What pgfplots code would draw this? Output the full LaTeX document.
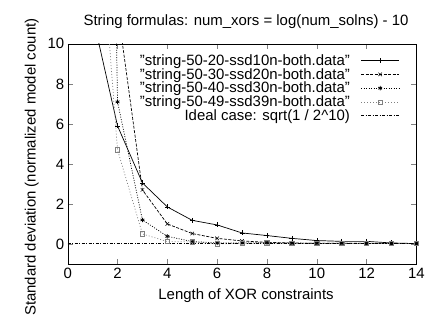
\documentclass[border=0pt]{standalone}
\usepackage{pgfplots}
\pgfplotsset{compat=1.18}
\usepackage{fontspec}
\setmainfont{Liberation Sans}
\begin{document}
\begin{tikzpicture}[x=1pt,y=1pt]
\path (0,0) rectangle (428,308);
\begin{axis}[
  at={(68pt,43pt)}, anchor=south west,
  scale only axis, width=350pt, height=221pt,
  xmin=0, xmax=14, ymin=-1, ymax=10,
  xtick={0,2,...,14}, ytick={0,2,...,10},
  tick align=inside, major tick length=5pt,
  /pgf/number format/assume math mode=true,
  font=\fontsize{15}{17}\selectfont,
  title={String formulas: num\_xors = log(num\_solns) - 10},
  title style={at={(0.5,1)}, anchor=south, yshift=6pt, xshift=4pt},
  xlabel={Length of XOR constraints},
  ylabel={Standard deviation (normalized model count)},
  xlabel style={yshift=-3pt, xshift=4pt},
  ylabel style={at={(ticklabel cs:0.44)}, yshift=2pt},
  xticklabel style={yshift=-1pt},
  legend style={draw=none, fill=none, at={(0.952,0.962)}, anchor=north east,
    inner sep=0pt, column sep=9pt, row sep=-2.5pt, font=\fontsize{15}{17}\selectfont},
  legend cell align=right,
  legend plot pos=right,
  legend image code/.code={\draw[mark repeat=2,mark phase=2] plot coordinates {(0pt,0pt) (19pt,0pt) (38pt,0pt)};},
  every axis plot/.append style={line width=0.7pt},
]
\addplot[black, solid, mark=+, mark size=2.5pt, mark options={solid, line width=0.5pt}] coordinates {
(1,11.4) (2,5.9) (3,3.05) (4,1.85) (5,1.18) (6,0.95) (7,0.55) (8,0.42) (9,0.28) (10,0.17) (11,0.13) (12,0.13) (13,0.05) (14,0.02)};
\addlegendentry{"string-50-20-ssd10n-both.data"}
\addplot[black, dash pattern=on 3pt off 1.5pt, mark=x, mark size=2.5pt, mark options={solid, line width=0.5pt}] coordinates {
(1,30) (2,11.8) (3,2.7) (4,1.0) (5,0.52) (6,0.28) (7,0.15) (8,0.08) (9,0.05) (10,0.03) (11,0.04) (12,0.03) (13,0.02) (14,0.02)};
\addlegendentry{"string-50-30-ssd20n-both.data"}
\addplot[black, dash pattern=on 1pt off 1.5pt, mark=asterisk, mark size=2.2pt, mark options={solid, line width=0.8pt}] coordinates {
(1,80) (2,7.1) (3,1.2) (4,0.38) (5,0.12) (6,0.05) (7,0.05) (8,0.06) (9,0.04) (10,0.03) (11,0.03) (12,0.03) (13,0.02) (14,0.02)};
\addlegendentry{"string-50-40-ssd30n-both.data"}
\addplot[gray, dash pattern=on 1pt off 2pt, mark=square, mark size=2.2pt, mark options={solid, line width=0.6pt}] coordinates {
(1,21) (2,4.7) (3,0.5) (4,0.12) (5,0.1) (6,0.0) (7,0.03) (8,0.05) (9,0.04) (10,0.03) (11,0.03) (12,0.03) (13,0.02) (14,0.02)};
\addlegendentry{"string-50-49-ssd39n-both.data"}
\addplot[black, dash pattern=on 3pt off 1.5pt on 1pt off 1.5pt] coordinates {(0,0.03125) (14,0.03125)};
\addlegendentry{Ideal case: sqrt(1 / 2\^{}10)}
\end{axis}
\end{tikzpicture}
\end{document}
